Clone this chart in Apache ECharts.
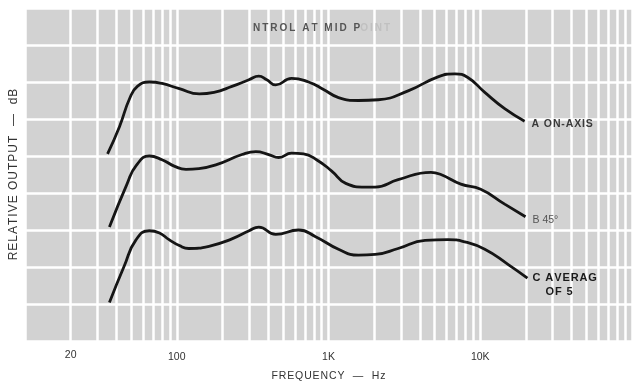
<!DOCTYPE html>
<html>
<head>
<meta charset="utf-8">
<script src="https://cdn.jsdelivr.net/npm/echarts@6/dist/echarts.min.js"></script>
<style>
  html, body { margin: 0; padding: 0; background: #fff; }
  #chart { width: 635px; height: 387px; }
</style>
</head>
<body>
<div id="chart"></div>
<script>
// curve A (on-axis)
const freqA = [35, 42, 49, 55, 66, 80, 104, 141, 176, 231, 299, 347, 392, 449, 571, 739, 927, 1164, 1574, 2129, 3347, 5265, 6808, 8283, 10711, 14490, 19600];
const levelA = [25.3, 29.0, 32.8, 34.4, 35.0, 34.8, 34.1, 33.4, 33.6, 34.4, 35.3, 35.8, 35.3, 34.6, 35.5, 35.0, 34.0, 32.9, 32.5, 32.6, 33.8, 35.7, 36.1, 35.6, 33.6, 31.4, 29.7];

// curve B (45 deg)
const freqB = [36, 47, 54, 66, 80, 97, 115, 140, 181, 269, 332, 404, 470, 571, 685, 834, 1046, 1300, 1749, 2033, 2877, 4735, 5503, 7447, 10070, 14490, 19870];
const levelB = [15.4, 21.2, 23.7, 25.0, 24.5, 23.6, 23.2, 23.3, 23.8, 25.2, 25.6, 25.2, 24.8, 25.4, 25.3, 24.5, 23.0, 21.3, 20.8, 20.8, 21.8, 22.8, 22.5, 21.2, 20.5, 18.5, 16.8];

// curve C (average of 5)
const freqC = [36, 45, 54, 66, 77, 89, 104, 120, 163, 231, 300, 347, 449, 635, 822, 1164, 1574, 2033, 2877, 4325, 6117, 7910, 10711, 15140, 20460];
const levelC = [5.2, 10.1, 13.7, 14.9, 14.6, 13.7, 12.9, 12.5, 12.8, 13.8, 14.9, 15.4, 14.4, 15.0, 14.1, 12.4, 11.6, 11.7, 12.5, 13.6, 13.7, 13.4, 12.4, 10.4, 8.5];

// log paper minor lines
const gridFreqs = [20, 30, 40, 50, 60, 70, 80, 90,
  200, 300, 400, 500, 600, 700, 800, 900,
  2000, 3000, 4000, 5000, 6000, 7000, 8000, 9000,
  20000, 30000, 40000, 50000, 60000, 70000, 80000, 90000];

const tickText = { 100: '100', 1000: '1K', 10000: '10K' };

const chart = echarts.init(document.getElementById('chart'));
const font = '"Liberation Sans", Arial, sans-serif';
const lineStyle = { color: '#151515', width: 2.8 };
// spread letters out like the old typeset labels
const spaced = (s, sp = '\u200a') => s.split('').join(sp);
const labelBase = { show: true, color: '#333', fontSize: 10.5, fontFamily: font, fontWeight: 'bold', distance: 7 };

const pairs = (fs, vs) => fs.map((f, i) => [f, vs[i]]);

chart.setOption({
  animation: false,
  title: {
    text: '{a|' + spaced('NTROL AT MID P', '\u2009') + '}{b|' + spaced('OINT', '\u2009') + '}',
    left: 248,
    top: 18,
    textStyle: {
      rich: {
        a: { fontSize: 10, color: '#555', fontFamily: font, fontWeight: 'bold' },
        b: { fontSize: 10, color: '#c0c0c0', fontFamily: font, fontWeight: 'bold' },
      },
    },
  },
  grid: {
    left: 25, right: 0, top: 8, bottom: 41,
    show: true, backgroundColor: '#d2d2d2', borderWidth: 0,
  },
  xAxis: {
    type: 'log',
    min: 10,
    max: 100000,
    name: spaced('FREQUENCY  —  Hz'),
    nameLocation: 'middle',
    nameGap: 30,
    nameTextStyle: { fontSize: 10.5, color: '#333', fontFamily: font },
    axisLine: { show: false },
    axisTick: { show: false },
    axisLabel: {
      color: '#333', fontSize: 10.5, fontFamily: font, margin: 11,
      formatter: (v) => tickText[Math.round(v)] || '',
    },
    splitLine: { show: true, lineStyle: { color: '#fff', width: 2.5 } },
  },
  yAxis: {
    type: 'value',
    min: 0,
    max: 45,
    interval: 5,
    name: spaced('RELATIVE OUTPUT  —  dB'),
    nameLocation: 'middle',
    nameGap: 5,
    nameTextStyle: { fontSize: 12, color: '#333', fontFamily: font },
    axisLine: { show: false },
    axisTick: { show: false },
    axisLabel: { show: false },
    splitLine: { show: true, lineStyle: { color: '#fff', width: 2.5 } },
  },
  series: [
    {
      type: 'line',
      data: pairs(freqA, levelA),
      smooth: 0.5,
      showSymbol: false,
      lineStyle,
      z: 3,
      endLabel: { ...labelBase, color: '#3a3a3a', formatter: spaced('A ON-AXIS'), offset: [0, 3] },
      markLine: {
        silent: true,
        z: 1,
        symbol: 'none',
        lineStyle: { color: '#fff', width: 2.5, type: 'solid' },
        label: { show: false },
        data: gridFreqs.map((f) => (f === 20
          ? { xAxis: f, label: { show: true, position: 'start', formatter: '20', color: '#333', fontSize: 10.5, fontFamily: font, distance: 9 } }
          : { xAxis: f })),
      },
    },
    {
      type: 'line',
      data: pairs(freqB, levelB),
      smooth: 0.5,
      showSymbol: false,
      lineStyle,
      z: 3,
      endLabel: { ...labelBase, color: '#555', fontWeight: 'normal', formatter: 'B 45°', offset: [0, 3] },
    },
    {
      type: 'line',
      data: pairs(freqC, levelC),
      smooth: 0.5,
      showSymbol: false,
      lineStyle,
      z: 3,
      endLabel: {
        ...labelBase,
        distance: 5,
        formatter: '{a|' + spaced('C AVERAG') + '}\n{b|' + spaced('OF 5') + '}',
        offset: [0, 7],
        rich: {
          a: { fontSize: 11, color: '#1a1a1a', fontFamily: font, fontWeight: 'bold', lineHeight: 14 },
          b: { fontSize: 11, color: '#1a1a1a', fontFamily: font, fontWeight: 'bold', lineHeight: 14, padding: [0, 0, 0, 13] },
        },
      },
    },
  ],
});
</script>
</body>
</html>
